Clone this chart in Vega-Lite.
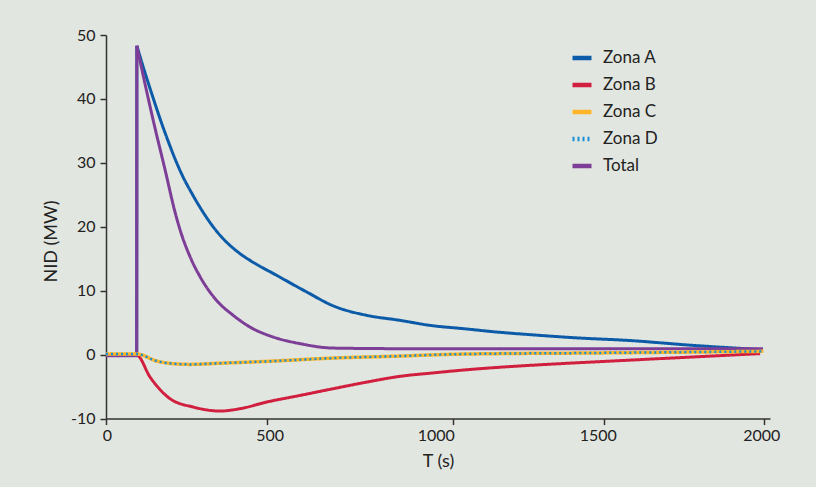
{
  "$schema": "https://vega.github.io/schema/vega-lite/v6.json",
  "width": 664,
  "height": 383.6,
  "autosize": "none",
  "padding": {"left": 106, "top": 35, "right": 46, "bottom": 68.4},
  "background": "#e2e6e0",
  "config": {
    "view": {"stroke": null},
    "font": "Lato",
    "axis": {
      "grid": false,
      "domainColor": "#333333",
      "domainWidth": 1.5,
      "tickColor": "#333333",
      "tickWidth": 1.5,
      "tickSize": 6,
      "labelFont": "Lato",
      "labelFontSize": 16,
      "labelColor": "#222222",
      "titleFont": "Lato",
      "titleFontSize": 18,
      "titleFontWeight": "normal",
      "titleColor": "#222222"
    }
  },
  "data": {
    "values": [
      {"zone": "Zona A", "s": 1, "T": 0, "v": 0},
      {"zone": "Zona A", "s": 1, "T": 95.5, "v": 0},
      {"zone": "Zona A", "s": 1, "T": 96, "v": 48.3},
      {"zone": "Zona A", "s": 2, "T": 96, "v": 48.3},
      {"zone": "Zona A", "s": 2, "T": 121, "v": 44.16},
      {"zone": "Zona A", "s": 2, "T": 146, "v": 40.25},
      {"zone": "Zona A", "s": 2, "T": 171, "v": 36.49},
      {"zone": "Zona A", "s": 2, "T": 196, "v": 33.05},
      {"zone": "Zona A", "s": 2, "T": 218, "v": 30.24},
      {"zone": "Zona A", "s": 2, "T": 240, "v": 27.77},
      {"zone": "Zona A", "s": 2, "T": 267, "v": 25.24},
      {"zone": "Zona A", "s": 2, "T": 292, "v": 23.09},
      {"zone": "Zona A", "s": 2, "T": 342, "v": 19.44},
      {"zone": "Zona A", "s": 2, "T": 417, "v": 15.8},
      {"zone": "Zona A", "s": 2, "T": 448, "v": 14.75},
      {"zone": "Zona A", "s": 2, "T": 527, "v": 12.4},
      {"zone": "Zona A", "s": 2, "T": 607, "v": 9.82},
      {"zone": "Zona A", "s": 2, "T": 679, "v": 7.63},
      {"zone": "Zona A", "s": 2, "T": 769, "v": 6.15},
      {"zone": "Zona A", "s": 2, "T": 858, "v": 5.37},
      {"zone": "Zona A", "s": 2, "T": 939, "v": 4.58},
      {"zone": "Zona A", "s": 2, "T": 1035, "v": 4.07},
      {"zone": "Zona A", "s": 2, "T": 1146, "v": 3.54},
      {"zone": "Zona A", "s": 2, "T": 1256, "v": 3.13},
      {"zone": "Zona A", "s": 2, "T": 1421, "v": 2.6},
      {"zone": "Zona A", "s": 2, "T": 1572, "v": 2.24},
      {"zone": "Zona A", "s": 2, "T": 1779, "v": 1.45},
      {"zone": "Zona A", "s": 2, "T": 1996, "v": 0.78},

      {"zone": "Zona B", "s": 1, "T": 0, "v": 0},
      {"zone": "Zona B", "s": 1, "T": 96, "v": -0.1},
      {"zone": "Zona B", "s": 1, "T": 137, "v": -3.5},
      {"zone": "Zona B", "s": 1, "T": 199, "v": -6.88},
      {"zone": "Zona B", "s": 1, "T": 272, "v": -8.2},
      {"zone": "Zona B", "s": 1, "T": 355, "v": -8.82},
      {"zone": "Zona B", "s": 1, "T": 417, "v": -8.45},
      {"zone": "Zona B", "s": 1, "T": 500, "v": -7.41},
      {"zone": "Zona B", "s": 1, "T": 590, "v": -6.37},
      {"zone": "Zona B", "s": 1, "T": 679, "v": -5.32},
      {"zone": "Zona B", "s": 1, "T": 769, "v": -4.29},
      {"zone": "Zona B", "s": 1, "T": 858, "v": -3.39},
      {"zone": "Zona B", "s": 1, "T": 948, "v": -2.85},
      {"zone": "Zona B", "s": 1, "T": 1013, "v": -2.5},
      {"zone": "Zona B", "s": 1, "T": 1355, "v": -1.41},
      {"zone": "Zona B", "s": 1, "T": 1421, "v": -1.25},
      {"zone": "Zona B", "s": 1, "T": 1987, "v": 0.16},

      {"zone": "Total", "s": 1, "T": 0, "v": -0.15},
      {"zone": "Total", "s": 1, "T": 95.5, "v": -0.15},
      {"zone": "Total", "s": 1, "T": 96, "v": 48.3},
      {"zone": "Total", "s": 2, "T": 96, "v": 48.3},
      {"zone": "Total", "s": 2, "T": 121, "v": 42.44},
      {"zone": "Total", "s": 2, "T": 152, "v": 35.55},
      {"zone": "Total", "s": 2, "T": 183.5, "v": 28.98},
      {"zone": "Total", "s": 2, "T": 215, "v": 22.26},
      {"zone": "Total", "s": 2, "T": 230, "v": 19.6},
      {"zone": "Total", "s": 2, "T": 261, "v": 15.38},
      {"zone": "Total", "s": 2, "T": 292, "v": 12.25},
      {"zone": "Total", "s": 2, "T": 344, "v": 8.49},
      {"zone": "Total", "s": 2, "T": 396, "v": 6.15},
      {"zone": "Total", "s": 2, "T": 448, "v": 4.32},
      {"zone": "Total", "s": 2, "T": 518, "v": 2.75},
      {"zone": "Total", "s": 2, "T": 590, "v": 1.72},
      {"zone": "Total", "s": 2, "T": 679, "v": 1.03},
      {"zone": "Total", "s": 2, "T": 858, "v": 0.94},
      {"zone": "Total", "s": 2, "T": 1996, "v": 0.94},

      {"zone": "Zona C", "s": 1, "T": 0, "v": 0.1},
      {"zone": "Zona C", "s": 1, "T": 96, "v": 0.1},
      {"zone": "Zona C", "s": 1, "T": 158, "v": -1.0},
      {"zone": "Zona C", "s": 1, "T": 209, "v": -1.41},
      {"zone": "Zona C", "s": 1, "T": 261, "v": -1.52},
      {"zone": "Zona C", "s": 1, "T": 344, "v": -1.36},
      {"zone": "Zona C", "s": 1, "T": 500, "v": -1.05},
      {"zone": "Zona C", "s": 1, "T": 679, "v": -0.53},
      {"zone": "Zona C", "s": 1, "T": 858, "v": -0.22},
      {"zone": "Zona C", "s": 1, "T": 993, "v": 0.05},
      {"zone": "Zona C", "s": 1, "T": 1146, "v": 0.16},
      {"zone": "Zona C", "s": 1, "T": 1421, "v": 0.25},
      {"zone": "Zona C", "s": 1, "T": 1997, "v": 0.52},

      {"zone": "Zona D", "s": 1, "T": 0, "v": 0.1},
      {"zone": "Zona D", "s": 1, "T": 96, "v": 0.1},
      {"zone": "Zona D", "s": 1, "T": 158, "v": -1.0},
      {"zone": "Zona D", "s": 1, "T": 209, "v": -1.41},
      {"zone": "Zona D", "s": 1, "T": 261, "v": -1.52},
      {"zone": "Zona D", "s": 1, "T": 344, "v": -1.36},
      {"zone": "Zona D", "s": 1, "T": 500, "v": -1.05},
      {"zone": "Zona D", "s": 1, "T": 679, "v": -0.53},
      {"zone": "Zona D", "s": 1, "T": 858, "v": -0.22},
      {"zone": "Zona D", "s": 1, "T": 993, "v": 0.05},
      {"zone": "Zona D", "s": 1, "T": 1146, "v": 0.16},
      {"zone": "Zona D", "s": 1, "T": 1421, "v": 0.25},
      {"zone": "Zona D", "s": 1, "T": 1997, "v": 0.52}
    ]
  },
  "encoding": {
    "x": {
      "field": "T",
      "type": "quantitative",
      "scale": {
        "domain": [0, 500, 1000, 1500, 2000, 2018],
        "range": [0, 160.7, 346.7, 497.7, 658.3, 664],
        "nice": false,
        "zero": false
      },
      "axis": {
        "values": [0, 500, 1000, 1500, 2000],
        "labelExpr": "'' + datum.value",
        "title": "T (s)",
        "labelPadding": 3,
        "titlePadding": 9,
        "labelFlush": false,
        "labelOffset": {
          "condition": [
            {"test": "datum.value == 500", "value": 3},
            {"test": "datum.value == 1000", "value": -17},
            {"test": "datum.value == 1500", "value": -6},
            {"test": "datum.value == 2000", "value": -3}
          ],
          "value": 1
        }
      }
    },
    "y": {
      "field": "v",
      "type": "quantitative",
      "scale": {"domain": [-10, 50], "nice": false, "zero": false},
      "axis": {
        "values": [-10, 0, 10, 20, 30, 40, 50],
        "labelExpr": "'' + datum.value",
        "title": "NID (MW)",
        "labelPadding": 5,
        "titleAngle": -90,
        "titleAlign": "center",
        "titleBaseline": "bottom",
        "titleX": -46,
        "titleY": 206
      }
    },
    "color": {
      "field": "zone",
      "type": "nominal",
      "scale": {
        "domain": ["Zona A", "Zona B", "Zona C", "Zona D", "Total"],
        "range": ["#0b5ba8", "#d11f3f", "#fdb52b", "#168fd8", "#7d3e98"]
      },
      "legend": {
        "title": null,
        "orient": "none",
        "legendX": 464,
        "legendY": 11,
        "symbolType": "stroke",
        "symbolSize": 361,
        "symbolStrokeWidth": 4.5,
        "labelFont": "Lato",
        "labelFontSize": 17,
        "labelColor": "#222222",
        "labelOffset": 9,
        "rowPadding": 6,
        "padding": 0
      }
    },
    "strokeDash": {
      "field": "zone",
      "type": "nominal",
      "scale": {
        "domain": ["Zona A", "Zona B", "Zona C", "Zona D", "Total"],
        "range": [[1, 0], [1, 0], [1, 0], [2, 3], [1, 0]]
      },
      "legend": null
    },
    "detail": {"field": "s", "type": "nominal"},
    "order": {"value": null}
  },
  "layer": [
    {"transform": [{"filter": "datum.zone == 'Zona A'"}], "mark": {"type": "line", "strokeWidth": 3, "interpolate": "monotone"}},
    {"transform": [{"filter": "datum.zone == 'Zona B'"}], "mark": {"type": "line", "strokeWidth": 3, "interpolate": "monotone"}},
    {"transform": [{"filter": "datum.zone == 'Total'"}], "mark": {"type": "line", "strokeWidth": 3, "interpolate": "monotone"}},
    {"transform": [{"filter": "datum.zone == 'Zona C'"}], "mark": {"type": "line", "strokeWidth": 3.5, "interpolate": "monotone"}},
    {"transform": [{"filter": "datum.zone == 'Zona D'"}], "mark": {"type": "line", "strokeWidth": 2.5, "interpolate": "monotone"}}
  ]
}
